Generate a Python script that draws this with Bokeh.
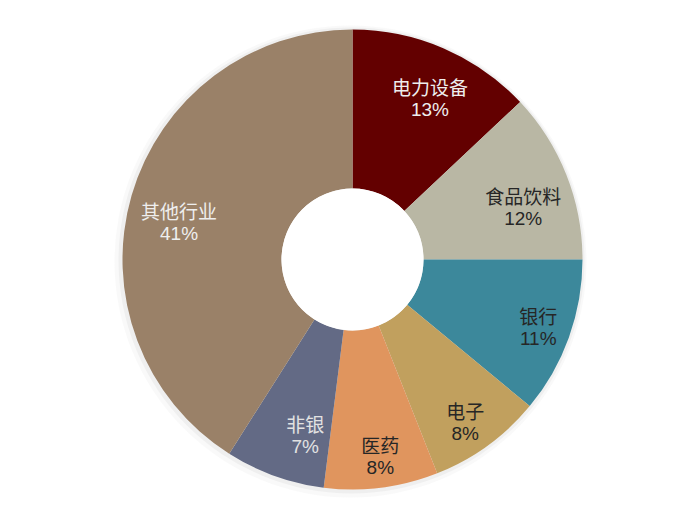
import math
from bokeh.plotting import figure
from bokeh.models import ColumnDataSource
from bokeh.core.properties import value
from bokeh.embed import file_html
from bokeh.resources import INLINE

categories = ["电力设备", "食品饮料", "银行", "电子", "医药", "非银", "其他行业"]
shares = [13, 12, 11, 8, 8, 7, 41]
colors = ["#630000", "#B9B7A4", "#3C889B", "#C1A05E", "#E0955E", "#636A85", "#9A8168"]
text_colors = ["#EEEEEE", "#262626", "#262626", "#262626", "#262626", "#E2E2E2", "#EEEEEE"]

# label placement nudges (pixels: right, down) relative to radial point
label_nudge = [(2, 13), (-6, 17), (7, 3), (1, 9), (4, 8), (17, -3), (9, 16)]

W, H = 684, 498
cx, cy = 352, 255
r_out, r_in = 230, 71
r_lab = 190

total = float(sum(shares))
starts, ends, lx, ly = [], [], [], []
a = math.pi / 2
for s, (nx, ny) in zip(shares, label_nudge):
    span = 2 * math.pi * s / total
    e = a - span
    starts.append(e)
    ends.append(a)
    mid = (a + e) / 2
    lx.append(cx + r_lab * math.cos(mid) + nx)
    ly.append(cy + r_lab * math.sin(mid) - ny)
    a = e

src = ColumnDataSource(dict(
    start=starts, end=ends, color=colors, tcolor=text_colors,
    x=[cx] * len(shares), y=[cy] * len(shares),
    lx=lx, ly_top=[v + 11.5 for v in ly], ly_bot=[v - 11.5 for v in ly],
    name=categories, pct=[f"{s}%" for s in shares],
))

p = figure(width=W, height=H, x_range=(0, W), y_range=(514 - H, 514),
           output_backend="svg", toolbar_location=None, min_border=0)
p.axis.visible = False
p.grid.visible = False
p.outline_line_color = None
p.background_fill_color = "white"

# soft shadow
p.circle(x=[cx - 2], y=[cy - 2], radius=236, fill_color="#B0B0B0", fill_alpha=0.08, line_color=None)
p.circle(x=[cx - 1], y=[cy - 1], radius=233, fill_color="#B0B0B0", fill_alpha=0.12, line_color=None)

p.annular_wedge(x="x", y="y", inner_radius=r_in, outer_radius=r_out,
                start_angle="start", end_angle="end", fill_color="color",
                line_color=None, source=src)
p.circle(x=[cx], y=[cy], radius=r_in, fill_color="white", line_color=None)

p.text(x="lx", y="ly_top", text="name", text_color="tcolor", text_align="center",
       text_baseline="middle", text_font=value("Noto Sans CJK SC"), text_font_size="19px",
       source=src)
p.text(x="lx", y="ly_bot", text="pct", text_color="tcolor", text_align="center",
       text_baseline="middle", text_font=value("Liberation Sans"), text_font_size="19px",
       source=src)

open("out.html", "w").write(file_html(p, INLINE))
